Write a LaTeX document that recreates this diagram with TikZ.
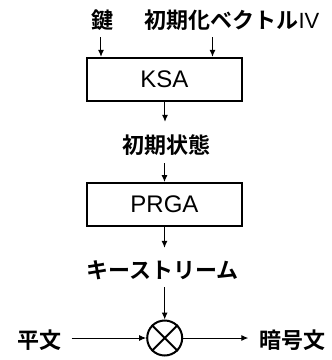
\documentclass[tikz,border=0pt]{standalone}
\usepackage{fontspec}
\setmainfont{Liberation Sans}
\newfontfamily\jfont{Noto Sans CJK JP Bold}
\newfontfamily\latinf{Liberation Sans}
\usetikzlibrary{arrows.meta}
\tikzset{
  lbl/.style={inner sep=0pt, font=\jfont\fontsize{22pt}{22pt}\selectfont, text height=19.4pt, text depth=2.6pt},
  procbox/.style={draw, line width=2pt, minimum width=155pt, minimum height=43pt, inner sep=0pt, font=\latinf\fontsize{24pt}{24pt}\selectfont},
  arr/.style={line width=1pt, -{Latex[length=7pt,width=6pt]}},
  xorc/.style={draw, circle, line width=2pt, minimum size=35pt, inner sep=0pt}
}
\begin{document}
\begin{tikzpicture}[x=1pt,y=-1pt]
\useasboundingbox (0,0) rectangle (332,360);
\node[lbl] (key) at (102.5,20) {鍵};
\node[lbl] (iv) at (232,20) {初期化ベクトル{\latinf IV}};
\node[procbox] (ksa) at (164.3,79.3) {KSA};
\node[lbl] (init) at (167,145) {初期状態};
\node[procbox] (prga) at (164.5,204.5) {PRGA};
\node[lbl] (ks) at (162.5,270) {キーストリーム};
\node[xorc] (x) at (164.7,338) {};
\draw[line width=2pt] (x.north west) -- (x.south east) (x.north east) -- (x.south west);
\node[lbl] (pt) at (39.5,340) {平文};
\node[lbl] (ct) at (292.5,340) {暗号文};
\draw[arr, shorten <=6pt] ([xshift=-1.5pt]key.south) -- ([xshift=-1.5pt]key.south |- ksa.north);
\draw[arr, shorten <=6pt] ([xshift=-19.5pt]iv.south) -- ([xshift=-19.5pt]iv.south |- ksa.north);
\draw[arr, shorten >=12pt] ([xshift=0.7pt]ksa.south) -- ([xshift=0.7pt]ksa.south |- init.north);
\draw[arr, shorten <=7pt] (init.south -| prga.north) -- (prga.north);
\draw[arr, shorten >=11pt] (prga.south) -- (prga.south |- ks.north);
\draw[arr, shorten <=6pt] (ks.south -| x.north) -- (x.north);
\draw[arr, shorten <=10pt] (pt.east |- x.west) -- (x.west);
\draw[arr, shorten >=11pt] (x.east) -- (ct.west |- x.east);
\end{tikzpicture}
\end{document}
